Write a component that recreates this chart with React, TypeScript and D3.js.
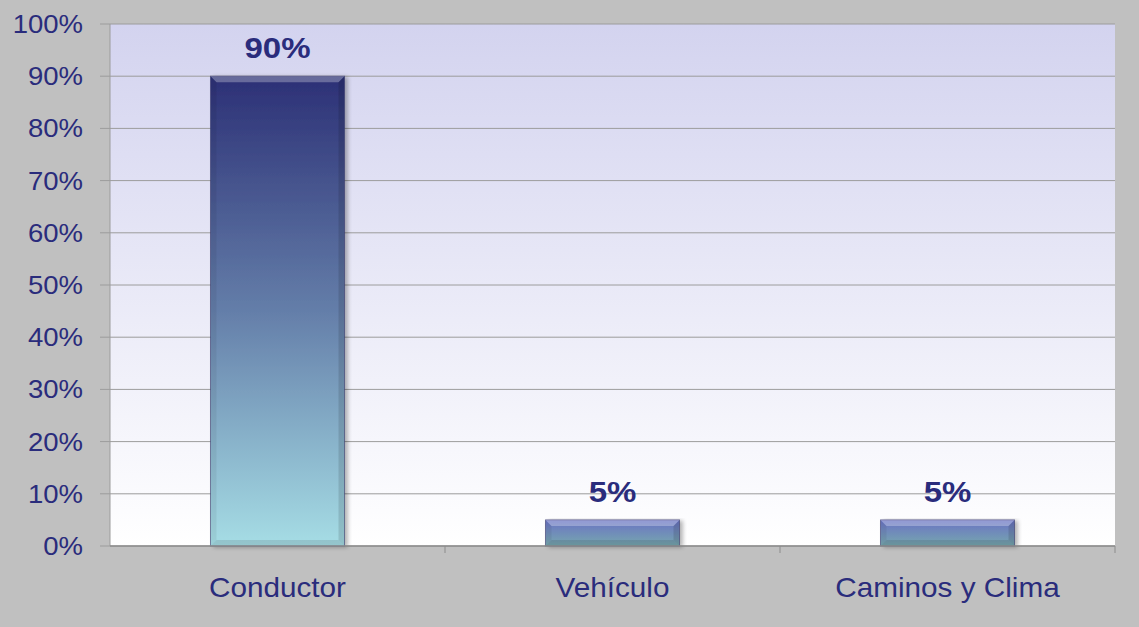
import React from 'react';
import * as d3 from 'd3';

// datos del gráfico
const categories = ['Conductor', 'Vehículo', 'Caminos y Clima'];
const values = [0.9, 0.05, 0.05];
const yTicks = [0, 0.1, 0.2, 0.3, 0.4, 0.5, 0.6, 0.7, 0.8, 0.9, 1.0];

const W = 1139;
const H = 627;
const margin = { top: 24, right: 24, bottom: 81, left: 110 };
const textColor = '#2a2c7c';
const font = '"Liberation Sans", Arial, sans-serif';
const stretch = 1.1; // el texto original está algo ensanchado

export default function App() {
  const x = d3
    .scaleBand<string>()
    .domain(categories)
    .range([margin.left, W - margin.right])
    .paddingInner(0.6)
    .paddingOuter(0.3);
  // límites de cada categoría (para las marcas del eje X)
  const band = d3
    .scaleBand<string>()
    .domain(categories)
    .range([margin.left, W - margin.right]);

  const y = d3
    .scaleLinear()
    .domain([0, 1])
    .range([H - margin.bottom, margin.top]);

  const fmt = d3.format('.0%');
  const y0 = y(0);
  const plotW = W - margin.right - margin.left;

  return (
    <svg
      width={W}
      height={H}
      style={{ position: 'absolute', left: 0, top: 0, display: 'block' }}
      fontFamily={font}
    >
      <defs>
        <linearGradient id="plotBg" x1="0" y1="0" x2="0" y2="1">
          <stop offset="0" stopColor="#d3d3ef" />
          <stop offset="1" stopColor="#ffffff" />
        </linearGradient>
        <linearGradient id="barTall" x1="0" y1="0" x2="0" y2="1">
          <stop offset="0" stopColor="#2c3076" />
          <stop offset="0.5" stopColor="#647ea9" />
          <stop offset="1" stopColor="#a6dde5" />
        </linearGradient>
        <linearGradient id="barShort" x1="0" y1="0" x2="0" y2="1">
          <stop offset="0" stopColor="#6a72c4" />
          <stop offset="1" stopColor="#76a8ae" />
        </linearGradient>
        <filter id="shadow" x="-10%" y="-10%" width="130%" height="130%">
          <feGaussianBlur in="SourceAlpha" stdDeviation="2" />
          <feOffset dx="3" dy="1" result="b" />
          <feComponentTransfer>
            <feFuncA type="linear" slope="0.3" />
          </feComponentTransfer>
          <feMerge>
            <feMergeNode />
            <feMergeNode in="SourceGraphic" />
          </feMerge>
        </filter>
      </defs>

      <rect x={0} y={0} width={W} height={H} fill="#c0c0c0" />
      <rect
        x={margin.left}
        y={margin.top}
        width={plotW}
        height={y0 - margin.top}
        fill="url(#plotBg)"
      />

      {/* rejilla y eje Y */}
      {yTicks.map(t => (
        <g key={t}>
          <line
            x1={margin.left - 10}
            x2={W - margin.right}
            y1={y(t)}
            y2={y(t)}
            stroke="#9c9c9c"
            strokeWidth={1}
          />
          <text
            transform={`translate(83,${y(t)}) scale(${stretch},1)`}
            dy="0.36em"
            textAnchor="end"
            fontSize={25}
            fill={textColor}
          >
            {fmt(t)}
          </text>
        </g>
      ))}
      <line
        x1={margin.left}
        x2={margin.left}
        y1={margin.top}
        y2={y0}
        stroke="#9c9c9c"
      />

      {/* barras */}
      {categories.map((c, i) => {
        const bx = x(c)!;
        const bw = x.bandwidth();
        const by = y(values[i]);
        const bh = y0 - by;
        const tall = bh > 100;
        const bv = 6;
        return (
          <g key={c}>
            <rect
              x={bx}
              y={by}
              width={bw}
              height={bh}
              fill={tall ? 'url(#barTall)' : 'url(#barShort)'}
              stroke="#3a3c70"
              strokeOpacity={0.6}
              filter="url(#shadow)"
            />
            {/* biselado */}
            <polygon
              points={`${bx},${by} ${bx + bw},${by} ${bx + bw - bv},${by + bv} ${bx + bv},${by + bv}`}
              fill="#ffffff"
              opacity={0.28}
            />
            <polygon
              points={`${bx},${by} ${bx + bv},${by + bv} ${bx + bv},${by + bh - bv} ${bx},${by + bh}`}
              fill="#000000"
              opacity={0.06}
            />
            <polygon
              points={`${bx + bw},${by} ${bx + bw - bv},${by + bv} ${bx + bw - bv},${by + bh - bv} ${bx + bw},${by + bh}`}
              fill="#000000"
              opacity={0.12}
            />
            <polygon
              points={`${bx},${by + bh} ${bx + bv},${by + bh - bv} ${bx + bw - bv},${by + bh - bv} ${bx + bw},${by + bh}`}
              fill="#000000"
              opacity={0.1}
            />
            <text
              transform={`translate(${bx + bw / 2},${by - 18}) scale(${stretch},1)`}
              textAnchor="middle"
              fontSize={30}
              fontWeight="bold"
              fill={textColor}
            >
              {fmt(values[i])}
            </text>
          </g>
        );
      })}

      {/* eje X */}
      <line
        x1={margin.left}
        x2={W - margin.right}
        y1={y0}
        y2={y0}
        stroke="#8c8c8c"
        strokeWidth={1.5}
      />
      {categories.map(c => (
        <line
          key={c}
          x1={band(c)! + band.bandwidth()}
          x2={band(c)! + band.bandwidth()}
          y1={y0}
          y2={y0 + 7}
          stroke="#8c8c8c"
        />
      ))}
      {categories.map(c => (
        <text
          key={c}
          transform={`translate(${band(c)! + band.bandwidth() / 2},597) scale(${stretch},1)`}
          textAnchor="middle"
          fontSize={27}
          fill={textColor}
        >
          {c}
        </text>
      ))}
    </svg>
  );
}
